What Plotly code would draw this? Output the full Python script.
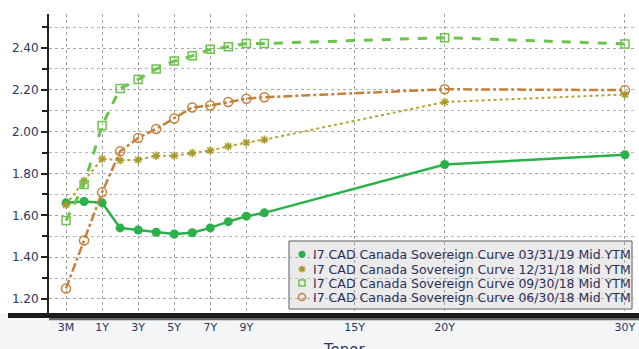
import plotly.graph_objects as go

# Tenor points of the curves
tenors = ["3M", "6M", "1Y", "2Y", "3Y", "4Y", "5Y", "6Y", "7Y", "8Y", "9Y", "10Y", "20Y", "30Y"]

# Mid YTM (%) for each curve date
ytm_2019_03_31 = [1.66, 1.666, 1.66, 1.54, 1.53, 1.519, 1.511, 1.517, 1.54, 1.57, 1.596, 1.612, 1.843, 1.89]
ytm_2018_12_31 = [1.65, 1.765, 1.871, 1.863, 1.866, 1.885, 1.885, 1.898, 1.91, 1.93, 1.948, 1.962, 2.142, 2.178]
ytm_2018_09_30 = [1.575, 1.748, 2.03, 2.207, 2.25, 2.30, 2.338, 2.363, 2.394, 2.406, 2.422, 2.422, 2.45, 2.42]
ytm_2018_06_30 = [1.25, 1.48, 1.71, 1.906, 1.97, 2.013, 2.063, 2.116, 2.125, 2.142, 2.158, 2.165, 2.203, 2.199]

tick_labels = ["3M", "1Y", "3Y", "5Y", "7Y", "9Y", "15Y", "20Y", "30Y"]

series_names = [
    "I7 CAD Canada Sovereign Curve 03/31/19 Mid YTM",
    "I7 CAD Canada Sovereign Curve 12/31/18 Mid YTM",
    "I7 CAD Canada Sovereign Curve 09/30/18 Mid YTM",
    "I7 CAD Canada Sovereign Curve 06/30/18 Mid YTM",
]


def axis_pos(label):
    # money-market tenors sit one slot apart to the left of 1Y
    if label == "3M":
        return -1
    if label == "6M":
        return 0
    return int(label.rstrip("Y"))


x = [axis_pos(t) for t in tenors]
tick_pos = [axis_pos(t) for t in tick_labels]

styles = [
    (dict(color="#2bb04a", width=2.5, dash="solid"),
     dict(symbol="circle", size=9, color="#2bb04a")),
    (dict(color="#b3a535", width=2, dash="dot"),
     dict(symbol="asterisk-open", size=7, color="#a8992c", line=dict(width=1.5, color="#a8992c"))),
    (dict(color="#6cc44c", width=3, dash="dash"),
     dict(symbol="square-open", size=8, color="#6cc44c", line=dict(width=1.5, color="#6cc44c"))),
    (dict(color="#c4803a", width=2.5, dash="dashdot"),
     dict(symbol="circle-open", size=9, color="#c4803a", line=dict(width=1.5, color="#c4803a"))),
]
values = [ytm_2019_03_31, ytm_2018_12_31, ytm_2018_09_30, ytm_2018_06_30]

fig = go.Figure()
for name, y, (line, marker) in zip(series_names, values, styles):
    fig.add_trace(go.Scatter(x=x, y=y, name=name, mode="lines+markers",
                             line=line, marker=marker, showlegend=False))

# Compact legend box drawn on an overlay axis spanning the plot area (0..1)
W, H = 586, 299          # plot area in pixels
box_x0, box_x1 = (289 - 49) / W, (632 - 49) / W
box_y1, box_y0 = (313 - 241) / H, (313 - 309) / H
row_px = [254.3, 269.0, 283.0, 297.0]
sym_x = (302 - 49) / W
txt_x = (311 - 49) / W

annotations = []
for i, (name, (line, marker)) in enumerate(zip(series_names, styles)):
    ry = (313 - row_px[i]) / H
    m = dict(marker)
    m["size"] = max(6, m["size"] - 2)
    fig.add_trace(go.Scatter(x=[sym_x], y=[ry], mode="markers", marker=m,
                             xaxis="x2", yaxis="y2", showlegend=False, hoverinfo="skip"))
    annotations.append(dict(text=name, xref="x2", yref="y2", x=txt_x, y=ry,
                            xanchor="left", yanchor="middle", showarrow=False,
                            font=dict(size=12.5, color="#2b2f5c", family="DejaVu Sans")))

annotations.append(dict(text="Tenor", xref="paper", yref="paper", x=0.505, y=-0.087,
                        xanchor="center", yanchor="top", showarrow=False,
                        font=dict(size=15, color="#2b3566")))

fig.update_layout(
    width=639, height=349,
    margin=dict(l=49, r=4, t=14, b=36),
    paper_bgcolor="white",
    plot_bgcolor="white",
    font=dict(family="DejaVu Sans", color="#2b3566"),
    showlegend=False,
    xaxis=dict(
        range=[-1.944, 30.556],
        tickmode="array", tickvals=tick_pos, ticktext=tick_labels,
        showgrid=True, gridcolor="#a0a0a0", griddash="dot", gridwidth=1,
        zeroline=False, showline=False, ticks="",
        ticklabelstandoff=6,
        tickfont=dict(size=11, color="#2b3566"),
    ),
    yaxis=dict(
        range=[1.133, 2.563],
        tickmode="linear", tick0=1.2, dtick=0.2, tickformat=".2f",
        showgrid=True, gridcolor="#a8a8a8", griddash="dot", gridwidth=1,
        zeroline=False, showline=True, linecolor="#222", linewidth=2,
        ticks="outside", ticklen=6, tickwidth=2, tickcolor="#222",
        tickfont=dict(size=12, color="#2b3566"),
        minor=dict(dtick=0.1, tick0=1.1, showgrid=True, gridcolor="#b8b8b8",
                   griddash="dot", ticks="outside", ticklen=5, tickcolor="#222"),
    ),
    xaxis2=dict(range=[0, 1], overlaying="x", visible=False, fixedrange=True),
    yaxis2=dict(range=[0, 1], overlaying="y", visible=False, fixedrange=True),
    shapes=[
        # pale band under the plot
        dict(type="rect", xref="paper", yref="paper", x0=-0.09, x1=1.01, y0=-0.13, y1=0,
             fillcolor="#f3f5f7", line=dict(width=0), layer="below"),
        # legend box
        dict(type="rect", xref="paper", yref="paper", x0=box_x0, x1=box_x1, y0=box_y0, y1=box_y1,
             fillcolor="#ebebeb", line=dict(width=1, color="#5a5a5a"), layer="below"),
        # scroll bar across the bottom
        dict(type="rect", xref="paper", yref="paper", x0=-0.07, x1=1.01,
             y0=-0.017, y1=0.0, fillcolor="#1a1a1a", line=dict(width=0), layer="above"),
        dict(type="rect", xref="paper", yref="paper", x0=0.0, x1=1.01,
             y0=-0.024, y1=-0.017, fillcolor="#666666", line=dict(width=0), layer="above"),
    ],
    annotations=annotations,
)

fig.write_html("out.html")
